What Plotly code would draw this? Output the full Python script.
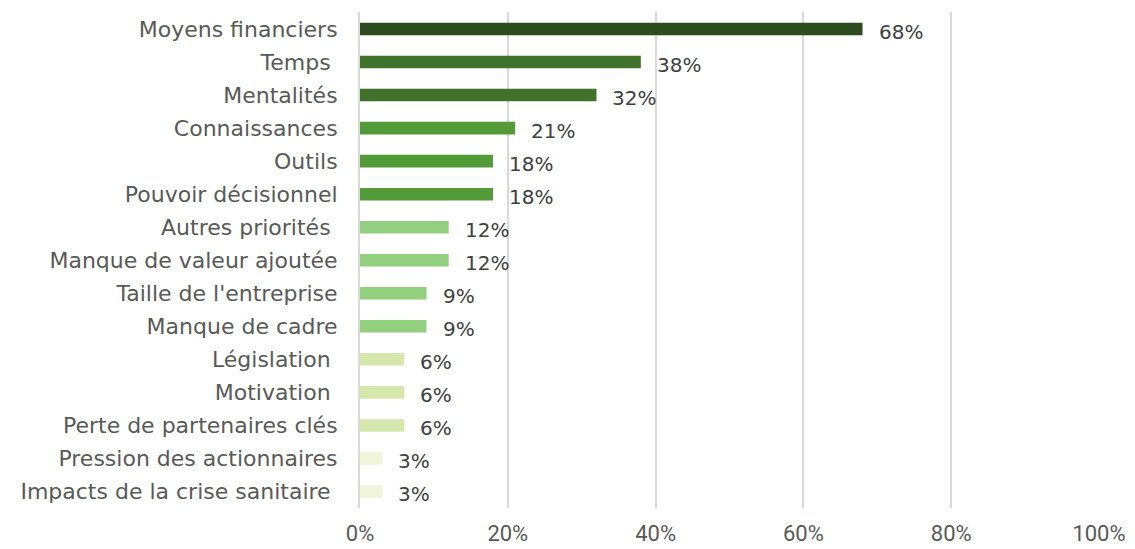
import plotly.graph_objects as go

categories = [
    "Moyens financiers", "Temps ", "Mentalités", "Connaissances", "Outils",
    "Pouvoir décisionnel", "Autres priorités ", "Manque de valeur ajoutée",
    "Taille de l'entreprise", "Manque de cadre", "Législation ", "Motivation ",
    "Perte de partenaires clés", "Pression des actionnaires",
    "Impacts de la crise sanitaire ",
]
values = [68, 38, 32, 21, 18, 18, 12, 12, 9, 9, 6, 6, 6, 3, 3]
colors = [
    "#2D4B1F", "#41722C", "#41722C", "#539B39", "#539B39", "#539B39",
    "#92CF7F", "#92CF7F", "#92CF7F", "#92CF7F",
    "#D6E7AD", "#D6E7AD", "#D6E7AD", "#F0F5D9", "#F0F5D9",
]
tick_vals = [0, 20, 40, 60, 80, 100]
tick_text = ["0%", "20%", "40%", "60%", "80%", "100%"]

fig = go.Figure(go.Bar(
    x=values, y=categories, orientation="h",
    marker=dict(color=colors, line=dict(width=0)),
    hoverinfo="skip",
))

for cat, v in zip(categories, values):
    fig.add_annotation(
        x=v, y=cat, text=f"{v}%", showarrow=False,
        xanchor="left", xshift=14, yshift=-3,
        font=dict(family="DejaVu Sans", size=20, color="#404040"),
    )

fig.update_layout(
    width=1135, height=549,
    margin=dict(l=360, r=36, t=12, b=41, autoexpand=False),
    paper_bgcolor="white", plot_bgcolor="white",
    bargap=0.62, showlegend=False,
)
fig.update_xaxes(
    range=[0, 100], tickvals=tick_vals, ticktext=tick_text,
    showgrid=True, gridcolor="#D9D9D9", gridwidth=2,
    zeroline=False, showline=False, automargin=False,
    tickfont=dict(family="Roboto", size=22, color="#595959"),
    ticklabelstandoff=10,
)
fig.update_yaxes(
    autorange="reversed", showgrid=False, zeroline=False, automargin=False,
    showline=True, linecolor="#D9D9D9", linewidth=2,
    tickfont=dict(family="DejaVu Sans", size=22, color="#595959"),
    ticklabelstandoff=16,
)

fig.write_html("out.html")
